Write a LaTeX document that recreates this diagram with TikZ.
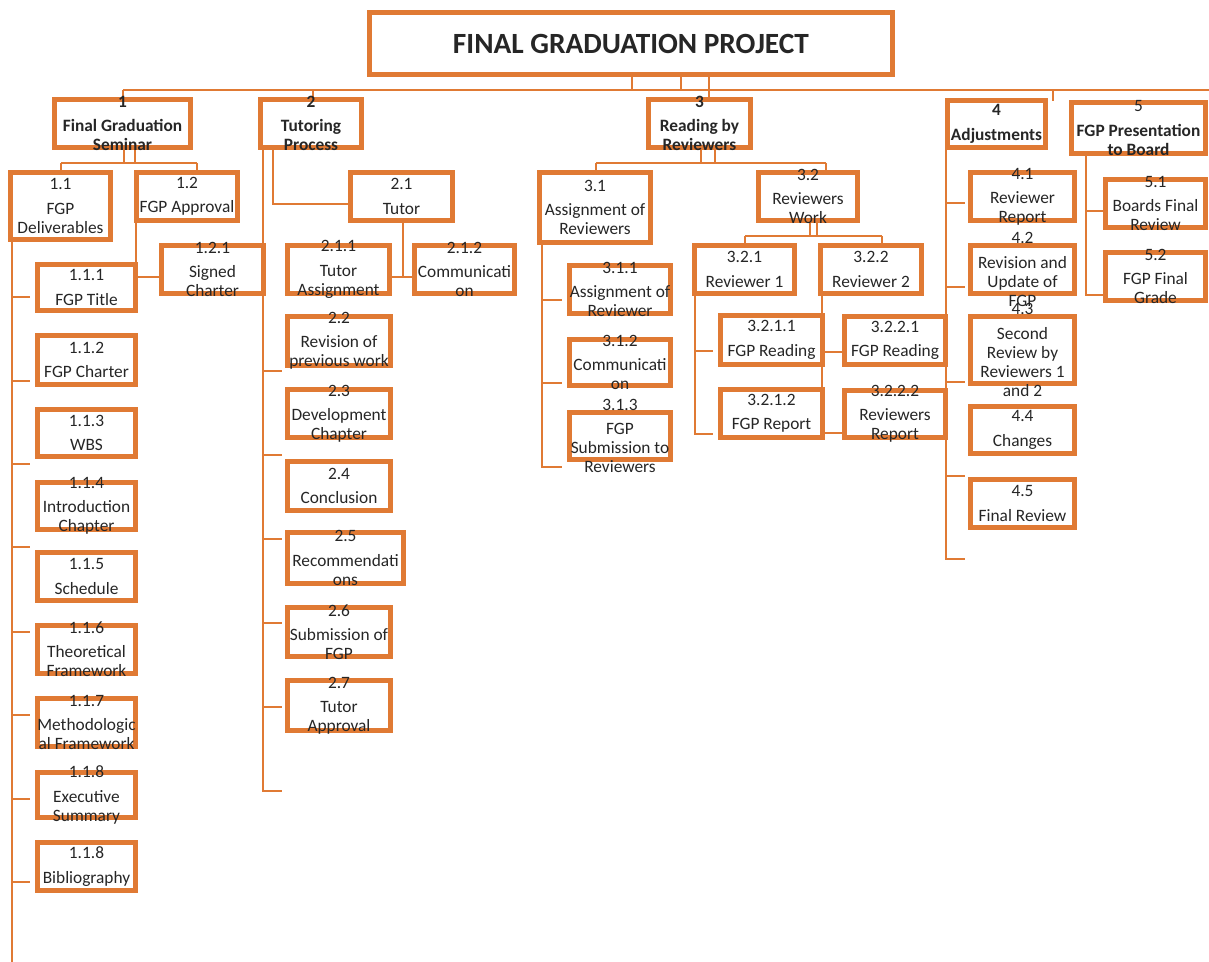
\documentclass[tikz,border=0pt]{standalone}
\usepackage{fontspec}
\setmainfont{Carlito}
\usetikzlibrary{backgrounds}

\definecolor{wbsorange}{RGB}{224,122,52}
\definecolor{wbsink}{RGB}{38,38,38}

% box with its text; #2 name, #3/#4 top-left and #5/#6 bottom-right outer edge (px)
\newcommand\wbsnode[7][]{%
  \node[wbsbox, minimum width={(#5-#3-4.6)*0.75pt}, minimum height={(#6-#4-4.6)*0.75pt}]
    (#2) at ({(#3+#5)/2},{(#4+#6)/2}) {};
  \node[wbstext,#1] (#2-t) at (#2.center) {#7};
}

\begin{document}
\begin{tikzpicture}[x=0.75pt,y=-0.75pt,
  wbsbox/.style={rectangle, draw=wbsorange, line width=3.5pt, fill=white,
    inner sep=0pt, outer sep=0pt},
  wbstext/.style={align=center, inner sep=0pt, text=wbsink,
    font=\fontsize{13}{14.25}\selectfont},
  wbsbold/.style={font=\fontsize{13}{14.25}\selectfont\bfseries},
  conn/.style={draw=wbsorange, line width=1.8pt}]
\useasboundingbox (0,0) rectangle (1209,962);

% project
\wbsnode[font=\fontsize{22}{26}\selectfont\bfseries]{main}{367}{10}{895}{77}{FINAL GRADUATION PROJECT}

% level 1
\wbsnode[wbsbold]{b1}{52}{97}{193}{150}{1\\[4pt]Final Graduation\\Seminar}
\wbsnode[wbsbold]{b2}{258}{97}{364}{150}{2\\[4pt]Tutoring\\Process}
\wbsnode[wbsbold]{b3}{646}{97}{753}{150}{3\\[4pt]Reading by\\Reviewers}
\wbsnode[wbsbold]{b4}{945}{98}{1048}{150}{4\\[4pt]Adjustments}
\wbsnode[wbsbold]{b5}{1069}{100}{1208}{156}{{\mdseries 5}\\[4pt]FGP Presentation\\to Board}

% 1 Final Graduation Seminar
\wbsnode{b11}{8}{170}{113}{242}{1.1\\[4pt]FGP\\Deliverables}
\wbsnode{b12}{134}{170}{240}{223}{1.2\\[4pt]FGP Approval}
\wbsnode{b121}{159}{243}{266}{296}{1.2.1\\[4pt]Signed\\Charter}
\wbsnode{b111}{35}{262}{138}{313}{1.1.1\\[4pt]FGP Title}
\wbsnode{b112}{35}{333}{138}{387}{1.1.2\\[4pt]FGP Charter}
\wbsnode{b113}{35}{407}{138}{459}{1.1.3\\[4pt]WBS}
\wbsnode{b114}{35}{480}{138}{532}{1.1.4\\[4pt]Introduction\\Chapter}
\wbsnode{b115}{35}{550}{138}{603}{1.1.5\\[4pt]Schedule}
\wbsnode{b116}{35}{623}{138}{676}{1.1.6\\[4pt]Theoretical\\Framework}
\wbsnode{b117}{35}{696}{138}{749}{1.1.7\\[4pt]Methodologic\\al Framework}
\wbsnode{b118}{35}{770}{138}{820}{1.1.8\\[4pt]Executive\\Summary}
\wbsnode{b119}{35}{840}{138}{893}{1.1.8\\[4pt]Bibliography}

% 2 Tutoring Process
\wbsnode{b21}{348}{170}{455}{223}{2.1\\[4pt]Tutor}
\wbsnode{b211}{285}{243}{392}{296}{2.1.1\\[4pt]Tutor\\Assignment}
\wbsnode{b212}{412}{243}{517}{296}{2.1.2\\[4pt]Communicati\\on}
\wbsnode{b22}{285}{314}{393}{368}{2.2\\[4pt]Revision of\\previous work}
\wbsnode{b23}{285}{387}{393}{440}{2.3\\[4pt]Development\\Chapter}
\wbsnode{b24}{285}{459}{393}{513}{2.4\\[4pt]Conclusion}
\wbsnode{b25}{285}{530}{406}{586}{2.5\\[4pt]Recommendati\\ons}
\wbsnode{b26}{285}{605}{393}{659}{2.6\\[4pt]Submission of\\FGP}
\wbsnode{b27}{285}{678}{393}{733}{2.7\\[4pt]Tutor\\Approval}

% 3 Reading by Reviewers
\wbsnode{b31}{537}{170}{653}{245}{3.1\\[4pt]Assignment of\\Reviewers}
\wbsnode{b311}{567}{263}{673}{316}{3.1.1\\[4pt]Assignment of\\Reviewer}
\wbsnode{b312}{567}{337}{673}{388}{3.1.2\\[4pt]Communicati\\on}
\wbsnode{b313}{567}{410}{673}{462}{3.1.3\\[4pt]FGP\\Submission to\\Reviewers}
\wbsnode{b32}{756}{170}{860}{223}{3.2\\[4pt]Reviewers\\Work}
\wbsnode{b321}{692}{243}{797}{296}{3.2.1\\[4pt]Reviewer 1}
\wbsnode{b322}{818}{243}{924}{296}{3.2.2\\[4pt]Reviewer 2}
\wbsnode{b3211}{718}{313}{825}{367}{3.2.1.1\\[4pt]FGP Reading}
\wbsnode{b3212}{718}{387}{825}{440}{3.2.1.2\\[4pt]FGP Report}
\wbsnode{b3221}{842}{314}{948}{367}{3.2.2.1\\[4pt]FGP Reading}
\wbsnode{b3222}{842}{388}{948}{440}{3.2.2.2\\[4pt]Reviewers\\Report}

% 4 Adjustments
\wbsnode{b41}{968}{170}{1077}{223}{4.1\\[4pt]Reviewer\\Report}
\wbsnode{b42}{968}{243}{1077}{296}{4.2\\[4pt]Revision and\\Update of\\FGP}
\wbsnode{b43}{968}{314}{1077}{386}{4.3\\[4pt]Second\\Review by\\Reviewers 1\\and 2}
\wbsnode{b44}{968}{404}{1077}{456}{4.4\\[4pt]Changes}
\wbsnode{b45}{968}{477}{1077}{530}{4.5\\[4pt]Final Review}

% 5 FGP Presentation to Board
\wbsnode{b51}{1103}{177}{1208}{230}{5.1\\[4pt]Boards Final\\Review}
\wbsnode{b52}{1103}{250}{1208}{303}{5.2\\[4pt]FGP Final\\Grade}

\begin{pgfonlayer}{background}
% project bar
\coordinate (bar-l) at (123,90);
\coordinate (bar-r) at (1209,90);
\draw[conn] (bar-l) -- (bar-r);
\draw[conn] (main.south -| 632,0) -- (632,90);
\draw[conn] (main.south -| 681,0) -- (681,90);
\draw[conn] (main.south -| 709,0) -- (b3.north -| 709,0);
\draw[conn] (bar-l) -- (b1.north -| bar-l);
\draw[conn] (313,90) -- (b2.north -| 313,0);
\draw[conn] (1053,90) -- (1053,101);

% 1
\draw[conn] (b1.south -| 124,0) -- (124,163);
\draw[conn] (b1.south -| 135,0) -- (135,163);
\draw[conn] (61,163) -- (197,163);
\draw[conn] (61,163) -- (b11.north -| 61,0);
\draw[conn] (197,163) -- (b12.north -| 197,0);
\draw[conn] (b11.south -| 12,0) -- (12,962);
\foreach \y in {297,381,464,547,632,715,799,882}
  \draw[conn] (12,\y) -- (30,\y);
\draw[conn] (b12.south -| 136,0) |- (b121.west |- 0,277);

% 2
\draw[conn] (b2.south -| 263,0) -- (263,791) -- (282,791);
\foreach \y in {371,455,539,623,707}
  \draw[conn] (263,\y) -- (282,\y);
\draw[conn] (b2.south -| 273,0) |- (b21.west |- 0,204);
\draw[conn] (b21.south -| 403,0) -- (403,277);
\draw[conn] (b211.east |- 0,277) -- (b212.west |- 0,277);

% 3
\draw[conn] (b3.south -| 701,0) -- (701,163);
\draw[conn] (b3.south -| 715,0) -- (715,163);
\draw[conn] (596,163) -- (826,163);
\draw[conn] (596,163) -- (b31.north -| 596,0);
\draw[conn] (826,163) -- (b32.north -| 826,0);
\draw[conn] (b31.south -| 542,0) -- (542,467) -- (562,467);
\foreach \y in {300,383}
  \draw[conn] (542,\y) -- (562,\y);
\draw[conn] (b32.south -| 810,0) -- (810,236);
\draw[conn] (b32.south -| 817,0) -- (817,236);
\draw[conn] (745,236) -- (882,236);
\draw[conn] (745,236) -- (b321.north -| 745,0);
\draw[conn] (882,236) -- (b322.north -| 882,0);
\draw[conn] (b321.south -| 695,0) -- (695,434) -- (713,434);
\draw[conn] (695,351) -- (713,351);
\draw[conn] (b322.south -| 822,0) |- (b3222.west |- 0,433);
\draw[conn] (822,352) -- (b3221.west |- 0,352);

% 4
\draw[conn] (b4.south -| 946,0) -- (946,559) -- (965,559);
\foreach \y in {203,287,382,476}
  \draw[conn] (946,\y) -- (965,\y);

% 5
\draw[conn] (b5.south -| 1086,0) |- (b52.west |- 0,295);
\draw[conn] (1086,211) -- (b51.west |- 0,211);
\end{pgfonlayer}
\end{tikzpicture}
\end{document}
